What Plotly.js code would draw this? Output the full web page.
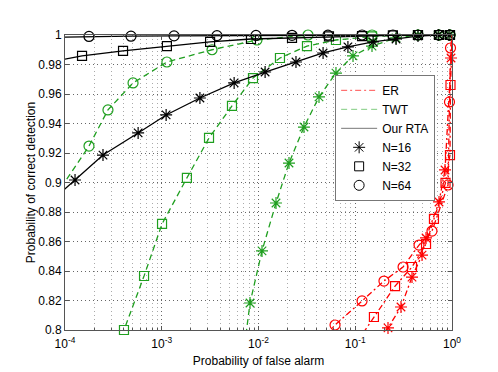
<!DOCTYPE html>
<html>
<head>
<meta charset="utf-8">
<script src="https://cdn.plot.ly/plotly-3.0.1.min.js"></script>
<style>
  html, body { margin: 0; padding: 0; background: #fff; }
  #chart { width: 498px; height: 372px; }
</style>
</head>
<body>
<div id="chart"></div>
<script>
// Detection ROC: probability of correct detection vs probability of false alarm.
// First / last entries that sit outside the axis range only carry the line to the frame.

// Our RTA (black, solid)
const rta16X = [8e-5, 1.27e-4, 2.47e-4, 5.7e-4, 1.11e-3, 2.48e-3, 5.6e-3, 0.0117, 0.0244, 0.0465, 0.084, 0.153, 0.264, 0.445, 0.72, 0.93];
const rta16Y = [0.890, 0.9017, 0.9186, 0.9336, 0.9458, 0.9573, 0.9675, 0.9749, 0.9817, 0.9878, 0.9919, 0.9953, 0.9973, 0.9993, 1.0, 1.0];
const rta32X = [8e-5, 1.5e-4, 3.98e-4, 1.13e-3, 3.16e-3, 8.36e-3, 0.0222, 0.0535, 0.1175, 0.245, 0.445, 0.734, 0.953];
const rta32Y = [0.9825, 0.9858, 0.9892, 0.9925, 0.9953, 0.9973, 0.998, 0.999, 0.9993, 0.9997, 1.0, 1.0, 1.0];
const rta64X = [8e-5, 1.77e-4, 4.81e-4, 1.34e-3, 3.72e-3, 9.42e-3, 0.0222, 0.0522, 0.1175, 0.245, 0.445, 0.734, 0.953];
const rta64Y = [0.9985, 0.999, 0.9992, 0.9994, 0.9996, 0.9997, 0.9998, 0.9999, 1.0, 1.0, 1.0, 1.0, 1.0];

// TWT (green, dashed)
const twt16X = [7.2e-3, 8.17e-3, 0.01087, 0.01517, 0.02066, 0.0295, 0.0422, 0.0632, 0.0948, 0.149, 0.264, 0.445, 0.734, 0.953];
const twt16Y = [0.79, 0.8183, 0.8536, 0.8861, 0.9132, 0.9376, 0.958, 0.9742, 0.9858, 0.9925, 0.998, 1.0, 1.0, 1.0];
const twt32X = [3.6e-4, 4.07e-4, 6.56e-4, 1.007e-3, 1.82e-3, 3.08e-3, 5.32e-3, 8.77e-3, 0.01667, 0.0317, 0.0632, 0.149, 0.445, 0.734, 0.953];
const twt32Y = [0.79, 0.8, 0.8366, 0.8719, 0.9031, 0.9302, 0.9519, 0.9708, 0.9844, 0.9925, 0.9966, 0.999, 1.0, 1.0, 1.0];
const twt64X = [8e-5, 1.77e-4, 2.78e-4, 5.05e-4, 1.13e-3, 3.31e-3, 9.64e-3, 0.0325, 0.149, 0.445, 0.734, 0.953];
const twt64Y = [0.891, 0.9247, 0.9492, 0.9675, 0.9817, 0.99, 0.9966, 1.0, 1.0, 1.0, 1.0, 1.0];

// ER (red, dash-dot)
const er16X = [0.17, 0.218, 0.297, 0.386, 0.49, 0.539, 0.734, 0.847, 0.977, 1.01];
const er16Y = [0.79, 0.8014, 0.8156, 0.8359, 0.8508, 0.8624, 0.8868, 0.9085, 0.9844, 1.0005];
const er32X = [0.1, 0.156, 0.258, 0.386, 0.539, 0.651, 0.857, 0.953, 0.965, 1.01];
const er32Y = [0.79, 0.8088, 0.8298, 0.8427, 0.8583, 0.8753, 0.8997, 0.9186, 0.9661, 1.0005];
const er64X = [0.04, 0.0618, 0.1175, 0.198, 0.312, 0.456, 0.621, 0.91, 0.942, 0.965, 1.01];
const er64Y = [0.79, 0.8034, 0.8197, 0.8332, 0.8427, 0.8576, 0.8671, 0.8983, 0.9546, 0.9912, 1.0005];

const xTickVals = [1e-4, 1e-3, 1e-2, 1e-1, 1];
const xTickText = ['10<sup>-4</sup>', '10<sup>-3</sup>', '10<sup>-2</sup>', '10<sup>-1</sup>', '10<sup>0</sup>'];
const yTickVals = [0.8, 0.82, 0.84, 0.86, 0.88, 0.9, 0.92, 0.94, 0.96, 0.98, 1];
const yTickText = ['0.8', '0.82', '0.84', '0.86', '0.88', '0.9', '0.92', '0.94', '0.96', '0.98', '1'];

const legendNames = ['ER', 'TWT', 'Our RTA', 'N=16', 'N=32', 'N=64'];

const COLORS = { black: '#000000', green: '#1f9f1f', red: '#ff0000' };
const SYMBOLS = { 16: 'asterisk-open', 32: 'square-open', 64: 'circle-open' };
const SIZES = { 16: 10, 32: 9, 64: 10 };
const FONT = 'Liberation Sans, Arial, Helvetica, sans-serif';

function inRange(x, y) {
  return x >= 1e-4 && x <= 1 && y >= 0.8 && y <= 1;
}

function series(xs, ys, color, dash, n) {
  const mx = [], my = [];
  xs.forEach((x, i) => { if (inRange(x, ys[i])) { mx.push(x); my.push(ys[i]); } });
  return [
    { x: xs, y: ys, mode: 'lines', type: 'scatter', showlegend: false, hoverinfo: 'skip',
      line: { color, width: 1.3, dash } },
    { x: mx, y: my, mode: 'markers', type: 'scatter', showlegend: false, cliponaxis: false,
      marker: { symbol: SYMBOLS[n], size: SIZES[n], color, line: { color, width: 1.2 } } },
  ];
}

const traces = [
  ...series(twt16X, twt16Y, COLORS.green, '6px,4px', 16),
  ...series(twt32X, twt32Y, COLORS.green, '6px,4px', 32),
  ...series(twt64X, twt64Y, COLORS.green, '6px,4px', 64),
  ...series(rta16X, rta16Y, COLORS.black, 'solid', 16),
  ...series(rta32X, rta32Y, COLORS.black, 'solid', 32),
  ...series(rta64X, rta64Y, COLORS.black, 'solid', 64),
  ...series(er16X, er16Y, COLORS.red, '6px,3px,2px,3px', 16),
  ...series(er32X, er32Y, COLORS.red, '6px,3px,2px,3px', 32),
  ...series(er64X, er64Y, COLORS.red, '6px,3px,2px,3px', 64),
];

// legend-only entries
const legendStyles = [
  { mode: 'lines', line: { color: '#ff5050', width: 1, dash: '6px,3px,2px,3px' } },
  { mode: 'lines', line: { color: '#80cc80', width: 1, dash: '6px,4px' } },
  { mode: 'lines', line: { color: '#777777', width: 1 } },
  { mode: 'markers', marker: { symbol: SYMBOLS[16], size: SIZES[16], color: '#000', line: { color: '#000', width: 1 } } },
  { mode: 'markers', marker: { symbol: SYMBOLS[32], size: SIZES[32], color: '#000', line: { color: '#000', width: 1 } } },
  { mode: 'markers', marker: { symbol: SYMBOLS[64], size: SIZES[64], color: '#000', line: { color: '#000', width: 1 } } },
];
legendNames.forEach((name, i) => {
  traces.push({ x: [null], y: [null], type: 'scatter', name, ...legendStyles[i] });
});

const axisBase = {
  showline: true, linecolor: '#555', linewidth: 1, mirror: 'ticks',
  ticks: 'inside', ticklen: 4, tickcolor: '#555',
  showgrid: true, gridcolor: '#666', griddash: '1px,3px', gridwidth: 1,
  zeroline: false, tickfont: { size: 12, color: '#000', family: FONT },
};

const layout = {
  width: 498, height: 372,
  paper_bgcolor: '#fff', plot_bgcolor: '#fff',
  font: { family: FONT, size: 12, color: '#000' },
  margin: { l: 65, r: 46, t: 35, b: 42 },
  xaxis: {
    ...axisBase, type: 'log', range: [-4, 0],
    tickmode: 'array', tickvals: xTickVals, ticktext: xTickText, ticklabelstandoff: 3,
    minor: { dtick: 'D1', ticks: 'inside', ticklen: 2, tickcolor: '#555', showgrid: true, gridcolor: '#aaa', griddash: '1px,3px', gridwidth: 1 },
    title: { text: 'Probability of false alarm', font: { size: 12 }, standoff: 6 },
  },
  yaxis: {
    ...axisBase, range: [0.8, 1],
    tickmode: 'array', tickvals: yTickVals, ticktext: yTickText,
    title: { text: 'Probability of correct detection', font: { size: 12 }, standoff: 0 },
  },
  showlegend: true,
  legend: {
    x: 0.698, y: 0.865, xanchor: 'left', yanchor: 'top',
    bgcolor: '#fff', bordercolor: '#777', borderwidth: 1,
    font: { size: 12, family: FONT, color: '#000' },
    tracegroupgap: 0, itemwidth: 36,
  },
};

Plotly.newPlot('chart', traces, layout, { displayModeBar: false, staticPlot: true });
</script>
</body>
</html>
